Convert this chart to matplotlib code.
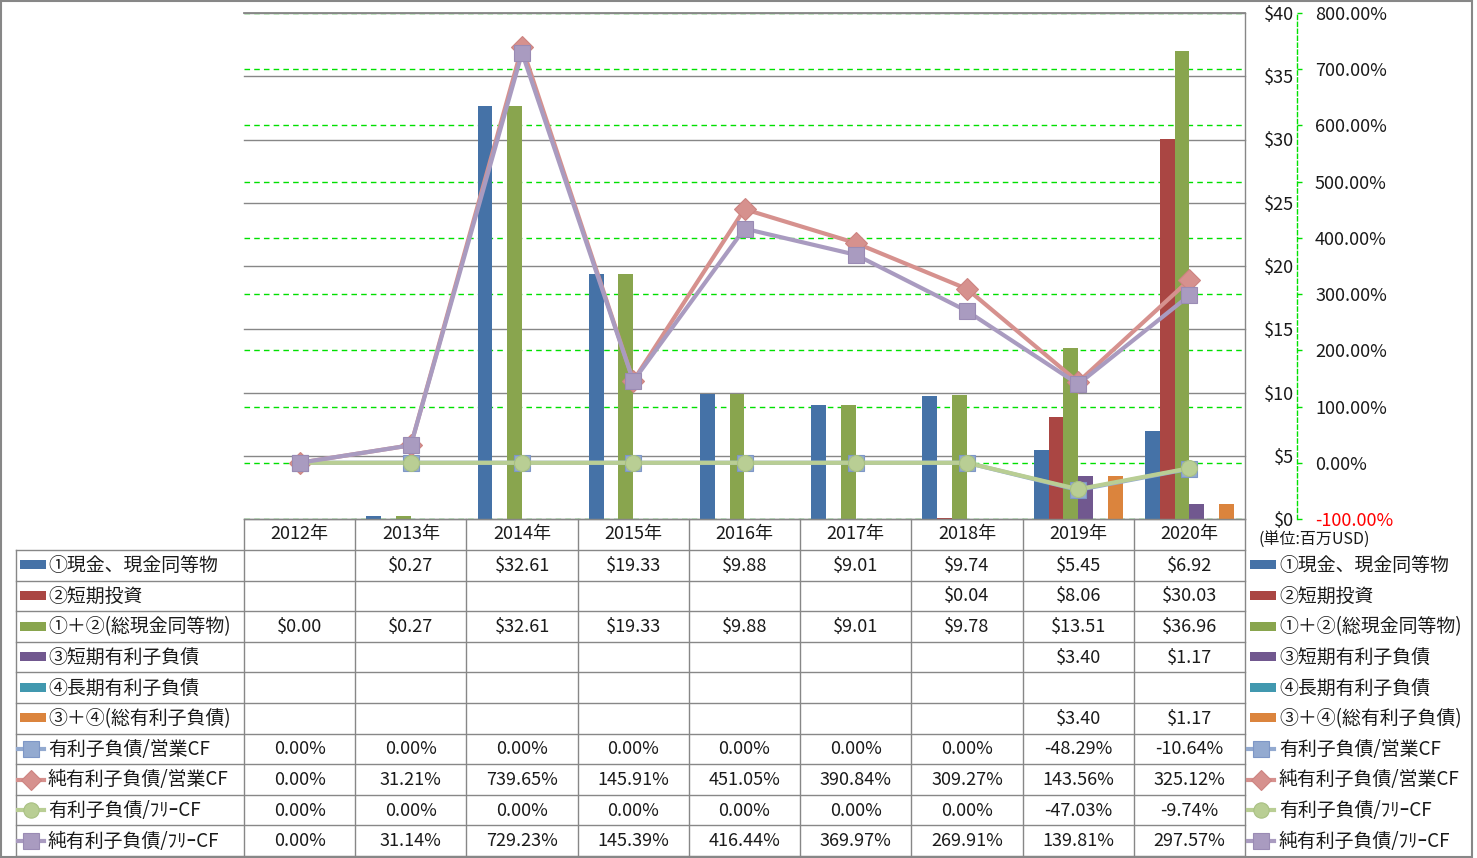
import numpy as np
import matplotlib
matplotlib.use('Agg')
import matplotlib.pyplot as plt
from matplotlib.patches import Rectangle

plt.rcParams['font.family'] = ['Noto Sans CJK JP', 'DejaVu Sans']

nan = np.nan

years = ['2012年', '2013年', '2014年', '2015年', '2016年', '2017年', '2018年', '2019年', '2020年']

# bar series (million USD)
cash = [nan, 0.27, 32.61, 19.33, 9.88, 9.01, 9.74, 5.45, 6.92]
short_inv = [nan, nan, nan, nan, nan, nan, 0.04, 8.06, 30.03]
total_cash = [0.00, 0.27, 32.61, 19.33, 9.88, 9.01, 9.78, 13.51, 36.96]
short_debt = [nan, nan, nan, nan, nan, nan, nan, 3.40, 1.17]
long_debt = [nan, nan, nan, nan, nan, nan, nan, nan, nan]
total_debt = [nan, nan, nan, nan, nan, nan, nan, 3.40, 1.17]

# line series (%)
debt_ocf = [0.00, 0.00, 0.00, 0.00, 0.00, 0.00, 0.00, -48.29, -10.64]
net_debt_ocf = [0.00, 31.21, 739.65, 145.91, 451.05, 390.84, 309.27, 143.56, 325.12]
debt_fcf = [0.00, 0.00, 0.00, 0.00, 0.00, 0.00, 0.00, -47.03, -9.74]
net_debt_fcf = [0.00, 31.14, 729.23, 145.39, 416.44, 369.97, 269.91, 139.81, 297.57]

bar_names = ['①現金、現金同等物', '②短期投資', '①＋②(総現金同等物)',
             '③短期有利子負債', '④長期有利子負債', '③＋④(総有利子負債)']
bar_data = [cash, short_inv, total_cash, short_debt, long_debt, total_debt]
bar_colors = ['#4572A7', '#AA4643', '#89A54E', '#71588F', '#4198AF', '#DB843D']

line_names = ['有利子負債/営業CF', '純有利子負債/営業CF', '有利子負債/ﾌﾘｰCF', '純有利子負債/ﾌﾘｰCF']
line_data = [debt_ocf, net_debt_ocf, debt_fcf, net_debt_fcf]
line_colors = ['#93AAD0', '#D6918E', '#B9CE94', '#A99BC0']
line_edges = ['#7E97C6', '#CD8481', '#A9C083', '#9A8BB4']
line_markers = ['s', 'D', 'o', 's']

# ---- layout in pixels
W, H = 1477, 858
PL, PR, PT, PB = 244, 1245, 13, 519
ROW0, ROWH = 550, 30.6
TL = 16
PX = 0.72  # points per pixel at dpi 100
FS = 13
FS_NAME = 13.6

fig = plt.figure(figsize=(W / 100, H / 100), dpi=100)
rect = [PL / W, 1 - PB / H, (PR - PL) / W, (PB - PT) / H]
x = np.arange(len(years))

# secondary scale: green grid + axis
axg = fig.add_axes(rect)
axg.set_xlim(-0.5, len(years) - 0.5)
axg.set_ylim(-100, 800)
pct_ticks = np.arange(-100, 801, 100)
axg.set_yticks(pct_ticks, labels=['{:.2f}%'.format(v) for v in pct_ticks])
axg.yaxis.tick_right()
axg.set_xticks([])
for s in ['top', 'left', 'bottom']:
    axg.spines[s].set_visible(False)
axg.spines['right'].set_position(('outward', 52 * PX))
axg.spines['right'].set_color('#00E000')
axg.spines['right'].set_linestyle((0, (3, 2)))
axg.spines['right'].set_linewidth(1)
axg.tick_params(axis='y', color='#00E000', length=5 * PX, width=1,
                pad=13 * PX, labelsize=FS, labelcolor='#1a1a1a')
axg.grid(axis='y', color='#00E000', linestyle=(0, (4, 3)), linewidth=1)
axg.yaxis.get_major_ticks()[0].label2.set_color('red')
axg.set_zorder(0)

# primary scale: bars
ax = fig.add_axes(rect, sharex=axg)
ax.patch.set_visible(False)
ax.set_ylim(0, 40)
usd_ticks = np.arange(0, 41, 5)
ax.set_yticks(usd_ticks, labels=['${}'.format(v) for v in usd_ticks])
ax.yaxis.tick_right()
ax.tick_params(axis='y', length=0, pad=49 * PX, labelsize=FS, labelcolor='#1a1a1a')
for lab in ax.get_yticklabels():
    lab.set_horizontalalignment('right')
ax.tick_params(axis='x', length=0, labelbottom=False)
for s in ax.spines.values():
    s.set_visible(False)
ax.set_axisbelow(True)
ax.grid(axis='y', color='#878787', linewidth=1)
for gl in ax.get_ygridlines():
    gl.set_clip_on(False)
# top gridline drawn solid over the 800% green line
ax.axhline(ax.get_ylim()[1], color='#878787', linewidth=1.3, clip_on=False, zorder=0.6)
bw = 0.8 / len(bar_data)
for i, (vals, c) in enumerate(zip(bar_data, bar_colors)):
    ax.bar(x + (i - 2.5) * bw, vals, bw, color=c, linewidth=0)
ax.set_zorder(1)

# lines on secondary scale
ax2 = fig.add_axes(rect, sharex=axg, sharey=axg)
ax2.axis('off')
for vals, c, ec, m in zip(line_data, line_colors, line_edges, line_markers):
    ms = 11 if m == 'D' else 11.5
    ax2.plot(x, vals, color=c, lw=3, marker=m, ms=ms, mfc=c, mec=ec, mew=0.8,
             solid_joinstyle='round')
ax2.set_zorder(2)

# data table
tab = fig.add_axes([0, 0, 1, 1])
tab.set_xlim(0, W)
tab.set_ylim(H, 0)
tab.axis('off')
tab.set_zorder(3)
gray = '#878787'
colw = (PR - PL) / len(years)
nrows = len(bar_data) + len(line_data)
ybot = ROW0 + nrows * ROWH

tab.add_patch(Rectangle((1, 1), 1471, 856, fill=False, ec=gray, lw=1.5))
tab.plot([PR, PR], [PT, ybot], color=gray, lw=1)
tab.plot([PL, PR], [PB, PB], color=gray, lw=1)
for k in range(len(years)):
    xl = PL + k * colw
    tab.plot([xl, xl], [PB, ybot], color=gray, lw=1)
    tab.text(xl + colw / 2, (PB + ROW0) / 2, years[k], ha='center', va='center',
             fontsize=FS, color='#1a1a1a')
for r in range(nrows + 1):
    yy = ROW0 + r * ROWH
    tab.plot([TL, PR], [yy, yy], color=gray, lw=1)
tab.plot([TL, TL], [ROW0, ybot], color=gray, lw=1)


def fmt_usd(v):
    return '' if np.isnan(v) else '${:.2f}'.format(v)


def fmt_pct(v):
    return '{:.2f}%'.format(v)


rows = []
for n, vals, c in zip(bar_names, bar_data, bar_colors):
    rows.append((n, [fmt_usd(v) for v in vals], 'bar', c, None, None))
for n, vals, c, ec, m in zip(line_names, line_data, line_colors, line_edges, line_markers):
    rows.append((n, [fmt_pct(v) for v in vals], 'line', c, ec, m))

for r, (name, texts, kind, c, ec, m) in enumerate(rows):
    yc = ROW0 + (r + 0.5) * ROWH
    for kx, lx in [(20, 48), (1250, 1279)]:
        if kind == 'bar':
            tab.add_patch(Rectangle((kx, yc - 5), 26, 9, color=c, lw=0))
        else:
            tab.plot([kx - 2, kx + 24], [yc, yc], color=c, lw=3)
            tab.plot([kx + 11], [yc], marker=m, ms=10.5 if m == 'D' else 11,
                     mfc=c, mec=ec, mew=0.8, color=c)
        tab.text(lx, yc + 0.5, name, ha='left', va='center', fontsize=FS_NAME, color='#1a1a1a')
    for k, t in enumerate(texts):
        tab.text(PL + (k + 0.5) * colw, yc + 0.5, t, ha='center', va='center',
                 fontsize=FS, color='#1a1a1a')

tab.text(1259, 540, '(単位:百万USD)', ha='left', va='center', fontsize=11.5, color='#1a1a1a')

fig.savefig('out.png', dpi=100)
